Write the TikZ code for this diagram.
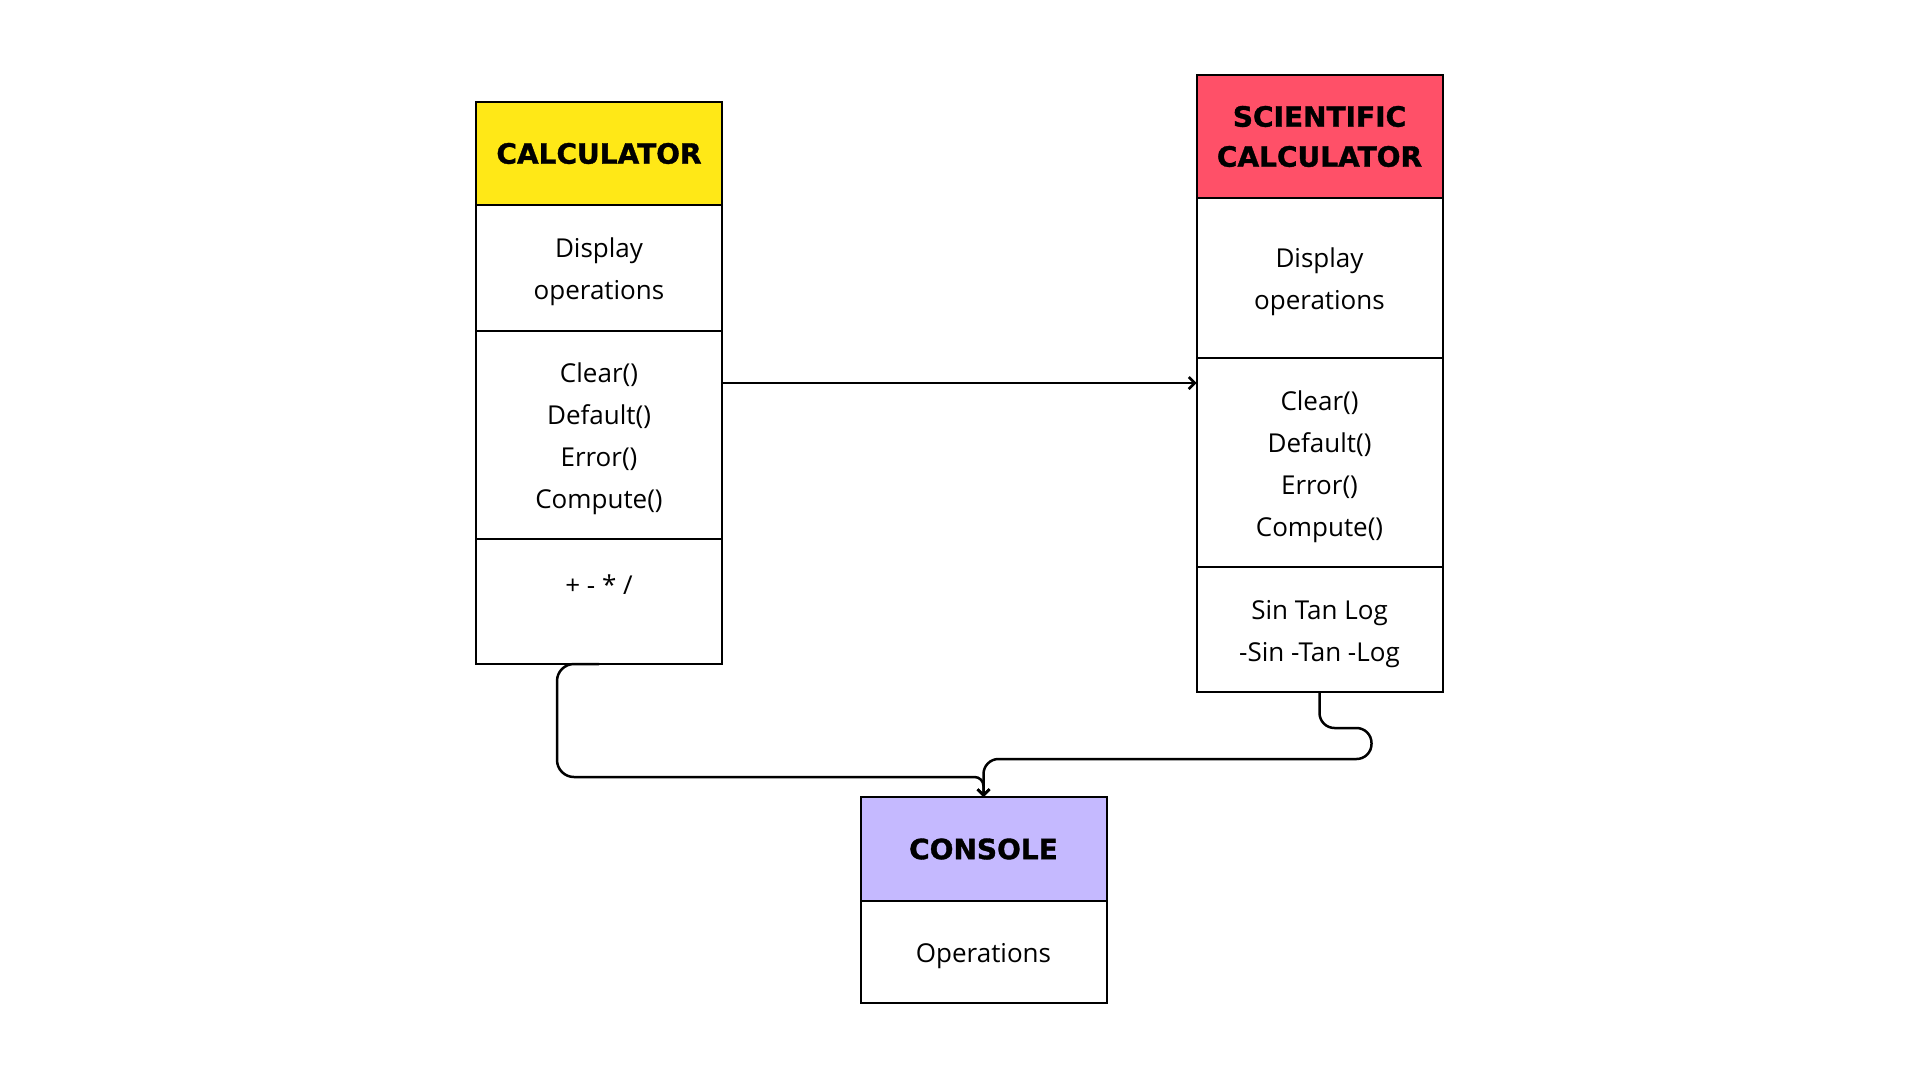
\documentclass[tikz,border=0pt]{standalone}
\usepackage{fontspec}
\setmainfont{Open Sans}
\newfontfamily\headfont{DejaVu Sans}[FakeBold=1.2]
\usetikzlibrary{calc,arrows.meta}
\definecolor{calcyellow}{HTML}{FFE817}
\definecolor{scired}{HTML}{FF5068}
\definecolor{conspurple}{HTML}{C5B9FF}
\newcommand\partstrut{\rule{0pt}{28pt}}

\begin{document}
\begin{tikzpicture}[x=1pt,y=-1pt]
  \tikzset{head/.style={draw,line width=2pt,outer sep=0pt,anchor=north,minimum width=246,inner sep=0pt,align=center,font=\headfont\bfseries\fontsize{28}{40}\selectfont},
    part/.style={draw,line width=2pt,outer sep=0pt,anchor=north,minimum width=246,inner sep=0pt,align=center,font=\fontsize{26}{42}\selectfont},
    link/.style={line width=2.5pt,-{Straight Barb[length=6pt,width=12pt]}}};
  \fill[white] (0,0) rectangle (1920,1080);
  \useasboundingbox (0,0) rectangle (1920,1080);
  % calculator
  \node[head,fill=calcyellow,minimum height=103] (C) at (599,102) {CALCULATOR};
  \node[part,minimum height=126] (C1) at (C.south) {\partstrut Display\\operations};
  \node[part,minimum height=208] (C2) at (C1.south) {\partstrut Clear()\\Default()\\Error()\\Compute()};
  \node[part,minimum height=125] (C3) at (C2.south) {\partstrut + - * /\\\mbox{}};
  % scientific calculator
  \node[head,fill=scired,minimum height=123] (S) at (1319.5,75) {SCIENTIFIC\\CALCULATOR};
  \node[part,minimum height=160] (S1) at (S.south) {\partstrut Display\\operations};
  \node[part,minimum height=209] (S2) at (S1.south) {\partstrut Clear()\\Default()\\Error()\\Compute()};
  \node[part,minimum height=125] (S3) at (S2.south) {\partstrut Sin Tan Log\\-Sin -Tan -Log};
  % console
  \node[head,fill=conspurple,minimum height=104] (K) at (983.5,797) {CONSOLE};
  \node[part,minimum height=102] (K1) at (K.south) {\partstrut Operations};
  \coordinate (a) at ($(C2.north east)!0.25!(C2.south east)$);
  \draw[link] (a) -- (a -| S2.west);
  \draw[link,rounded corners=17pt] (C3.south) -- ++(-42,0) -- ++(0,113) [rounded corners=9pt] -| (K.north);
  \draw[link,rounded corners=15pt] (S3.south) -- ++(0,36) -- ++(52,0) -- ++(0,31) -| (K.north);
\end{tikzpicture}
\end{document}
